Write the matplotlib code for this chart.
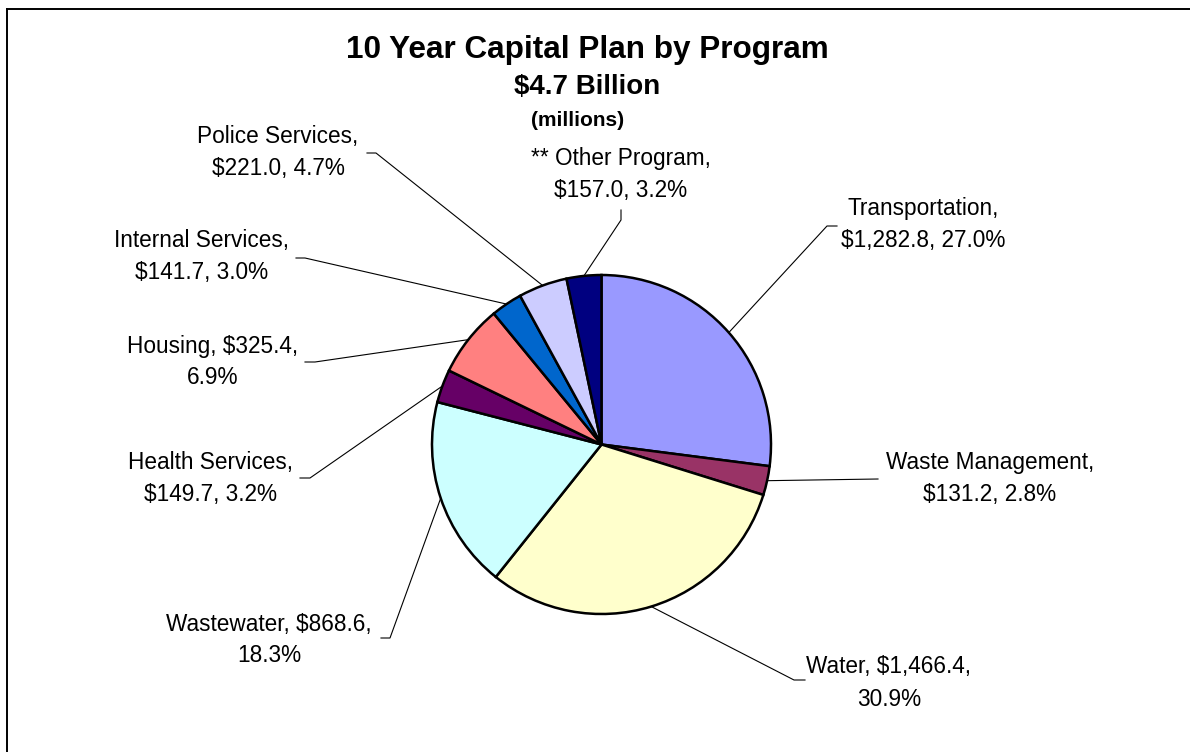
import numpy as np
import matplotlib
matplotlib.use('Agg')
import matplotlib.pyplot as plt
from matplotlib.lines import Line2D

plt.rcParams['font.family'] = ['Liberation Sans', 'DejaVu Sans']

W, H = 1190, 752

programs = ['Transportation', 'Waste Management', 'Water', 'Wastewater',
            'Health Services', 'Housing', 'Internal Services',
            'Police Services', '** Other Program']
amounts = [1282.8, 131.2, 1466.4, 868.6, 149.7, 325.4, 141.7, 221.0, 157.0]
percents = [27.0, 2.8, 30.9, 18.3, 3.2, 6.9, 3.0, 4.7, 3.2]
colors = ['#9999FF', '#993366', '#FFFFCC', '#CCFFFF', '#660066',
          '#FF8080', '#0066CC', '#CCCCFF', '#000080']

# pie geometry in pixels (y grows downward)
CX, CY, R = 601.5, 444.5, 169.5

# label layout: text block centre, line break after name (0) or after amount (1),
# and the elbow points of each leader line (from label side towards the pie)
label_pos = [(923, 224), (990, 478), (889, 683), (269, 640), (211, 479),
             (213, 362), (202, 257), (278, 152), (621, 175)]
label_break = [0, 0, 1, 1, 0, 1, 0, 0, 0]
leader_elbows = [
    [(837, 226), (827, 226)],
    [(878, 479)],
    [(805, 680), (794, 680)],
    [(381, 638), (390, 638)],
    [(300, 478), (310, 478)],
    [(305, 362), (315, 362)],
    [(296, 258), (305, 258)],
    [(367, 153), (376, 153)],
    [(621, 210), (621, 220)],
]

fig = plt.figure(figsize=(W / 100, H / 100), dpi=100)
ax = fig.add_axes([0, 0, 1, 1])

# y axis is inverted, so counterclock in data space reads clockwise on screen
ax.pie(amounts, colors=colors, startangle=-90, counterclock=True,
       center=(CX, CY), radius=R,
       wedgeprops=dict(edgecolor='black', linewidth=1.8))
ax.set_xlim(0, W)
ax.set_ylim(H, 0)
ax.set_aspect('equal')
ax.axis('off')

total = sum(amounts)
cum = np.cumsum([0] + amounts)
for i, name in enumerate(programs):
    mid = (cum[i] + cum[i + 1]) / 2 / total * 2 * np.pi
    px, py = CX + R * np.sin(mid), CY - R * np.cos(mid)
    pts = leader_elbows[i] + [(px, py)]
    xs, ys = zip(*pts)
    ax.add_line(Line2D(xs, ys, color='black', linewidth=0.8))

    amt = f'${amounts[i]:,.1f}'
    pct = f'{percents[i]:.1f}%'
    if label_break[i] == 0:
        txt = f'{name},\n{amt}, {pct}'
    else:
        txt = f'{name}, {amt},\n{pct}'
    lx, ly = label_pos[i]
    ax.text(lx, ly, txt, ha='center', va='center', multialignment='center',
            fontsize=16.3, linespacing=1.5, color='black')

ax.text(587, 50, '10 Year Capital Plan by Program', ha='center', va='center',
        fontsize=22.7, fontweight='bold')
ax.text(587, 87, '$4.7 Billion', ha='center', va='center',
        fontsize=20, fontweight='bold')
ax.text(578, 120, '(millions)', ha='center', va='center',
        fontsize=15, fontweight='bold')

# chart area border (runs off the right and bottom edges)
ax.add_line(Line2D([7, 7], [H + 5, 9], color='black', linewidth=1.4))
ax.add_line(Line2D([7, W + 5], [9, 9], color='black', linewidth=1.4))

fig.savefig('out.png', dpi=100, facecolor='white')
